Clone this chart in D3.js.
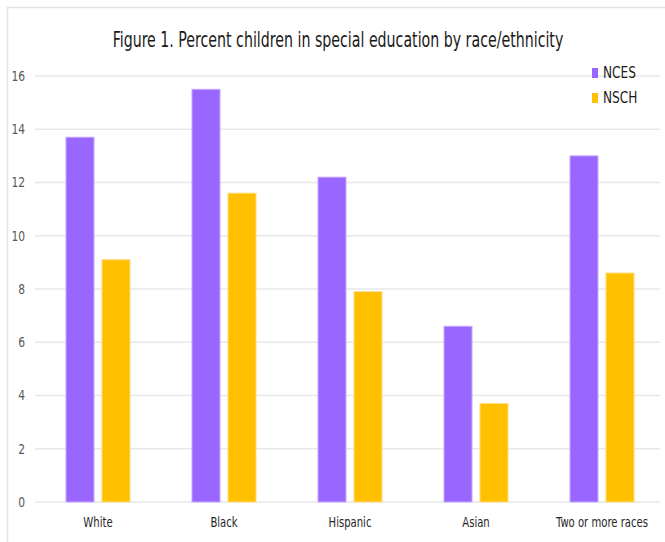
<!DOCTYPE html>
<html>
<head>
<meta charset="utf-8">
<script src="https://cdn.jsdelivr.net/npm/d3@7"></script>
<style>
  html, body { margin: 0; padding: 0; background: #fff; }
  svg { display: block; }
  text { font-family: "Liberation Sans Narrow", "DejaVu Sans Condensed", "Open Sans", sans-serif; fill: #262626; }
</style>
</head>
<body>
<svg id="chart" width="665" height="542"></svg>
<script>
// Percent of children in special education, by race/ethnicity
const categories = ["White", "Black", "Hispanic", "Asian", "Two or more races"];
const seriesNames = ["NCES", "NSCH"];
const ncesValues = [13.7, 15.5, 12.2, 6.6, 13.0];
const nschValues = [9.1, 11.6, 7.9, 3.7, 8.6];
const yTicks = [0, 2, 4, 6, 8, 10, 12, 14, 16];
const colors = ["#9966FF", "#FFC000"];

const svg = d3.select("#chart");
const plotBottom = 502, plotTop = 76;

// outer frame (only top and left edges fall inside the view)
svg.append("rect")
  .attr("x", 7.5).attr("y", 7.5)
  .attr("width", 800).attr("height", 800)
  .attr("fill", "none").attr("stroke", "#e3e3e3").attr("stroke-width", 1.5);

const x0 = d3.scaleBand().domain(categories).range([35, 665]).padding(0);
const x1 = d3.scaleBand().domain(seriesNames)
  .range([x0.bandwidth() / 2 - 32, x0.bandwidth() / 2 + 32])
  .paddingInner(8 / 36).paddingOuter(0);
const y = d3.scaleLinear().domain([0, 16]).range([plotBottom, plotTop]);

// horizontal gridlines
svg.append("g")
  .selectAll("line")
  .data(yTicks)
  .join("line")
  .attr("x1", 35).attr("x2", 660)
  .attr("y1", d => y(d)).attr("y2", d => y(d))
  .attr("stroke", "#e8e8e8").attr("stroke-width", 1.5);

// y axis labels
const yAxis = d3.axisLeft(y).tickValues(yTicks).tickSize(0).tickPadding(0);
const gy = svg.append("g").attr("transform", "translate(25,0)").call(yAxis);
gy.select(".domain").remove();
gy.selectAll("text")
  .attr("x", 0)
  .attr("transform", "scale(0.85,1)")
  .style("font-size", "14px")
  .style("fill", "#595959")
  .attr("text-anchor", "end");

// bars
const rows = categories.map((c, i) => ({ cat: c, vals: [ncesValues[i], nschValues[i]] }));
const groups = svg.append("g")
  .selectAll("g")
  .data(rows)
  .join("g")
  .attr("transform", d => `translate(${x0(d.cat)},0)`);

groups.selectAll("rect")
  .data(d => d.vals.map((v, k) => ({ name: seriesNames[k], v, k })))
  .join("rect")
  .attr("x", d => x1(d.name))
  .attr("width", x1.bandwidth())
  .attr("y", d => y(d.v))
  .attr("height", d => y(0) - y(d.v))
  .attr("fill", d => colors[d.k])
  .attr("stroke", d => d.k === 0 ? "#c4a8ff" : "#ffdb80")
  .attr("stroke-width", 1);

// x axis labels (narrowed horizontally)
const xAxis = d3.axisBottom(x0).tickSize(0).tickPadding(0);
const gx = svg.append("g").attr("transform", `translate(0,${plotBottom + 14})`).call(xAxis);
gx.select(".domain").remove();
gx.selectAll("text")
  .attr("transform", "scale(0.8,1)")
  .style("font-size", "14px")
  .style("fill", "#262626")
  .attr("dy", "0.75em");

// title, squeezed to its set width
const titleX = 338, titleW = 451;
const title = svg.append("g").attr("transform", `translate(${titleX},47)`);
const titleText = title.append("text")
  .attr("x", 0).attr("y", 0)
  .attr("text-anchor", "middle")
  .style("font-size", "22px")
  .style("fill", "#1a1a1a")
  .text("Figure 1. Percent children in special education by race/ethnicity");
const natural = titleText.node().getComputedTextLength();
if (natural > 0) titleText.attr("transform", `scale(${titleW / natural},1)`);

// legend
const legend = svg.append("g").attr("transform", "translate(592,0)");
const legendY = [68, 93];
seriesNames.forEach((name, k) => {
  legend.append("rect")
    .attr("x", 0).attr("y", legendY[k])
    .attr("width", 6).attr("height", 10)
    .attr("fill", colors[k]);
  legend.append("text")
    .attr("x", 11).attr("y", legendY[k] + 10)
    .attr("transform", `scale(0.9,1)`)
    .attr("transform-origin", `11 ${legendY[k] + 10}`)
    .style("font-size", "15px")
    .style("fill", "#1a1a1a")
    .text(name);
});
</script>
</body>
</html>
